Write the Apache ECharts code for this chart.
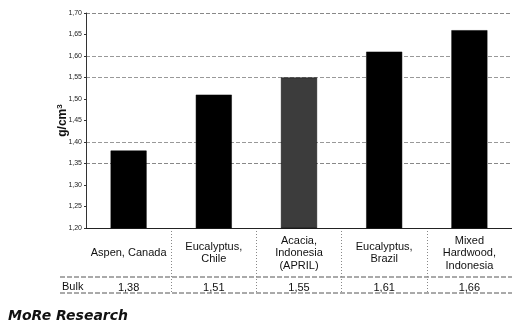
<!DOCTYPE html>
<html>
<head>
<meta charset="utf-8">
<style>
  html, body { margin: 0; padding: 0; background: #fff; }
  #chart { width: 512px; height: 329px; }
</style>
<script src="https://cdn.jsdelivr.net/npm/echarts@6/dist/echarts.min.js"></script>
</head>
<body>
<div id="chart"></div>
<script>
// categories and values
const categories = ['Aspen, Canada', 'Eucalyptus,\nChile', 'Acacia,\nIndonesia\n(APRIL)', 'Eucalyptus,\nBrazil', 'Mixed\nHardwood,\nIndonesia']
const bulk = [1.38, 1.51, 1.55, 1.61, 1.66]
const barColors = ['#000', '#000', '#3c3c3c', '#000', '#000']

// the scanned grid only shows some of the lines
const gridColors = ['transparent', 'transparent', 'transparent', '#888', '#999', 'transparent', 'transparent', '#999', '#999', 'transparent', '#888']
const tableColors = ['transparent', '#888', '#888', '#888', '#888', 'transparent']

function comma(v, d) {
	return Number(v).toFixed(d).replace('.', ',')
}

const chart = echarts.init(document.getElementById('chart'))
const font = 'Liberation Sans, Arial, sans-serif'

chart.setOption({
	animation: false,
	textStyle: { fontFamily: font },
	grid: [
		{ left: 86, right: -6, top: 13, height: 215 },
		{ left: 86, right: -6, top: 228, height: 65 }
	],
	xAxis: [
		{
			type: 'category', gridIndex: 0, data: categories,
			axisLine: { lineStyle: { color: '#222', width: 1 } },
			axisTick: { show: false },
			axisLabel: {
				margin: 25, verticalAlign: 'middle', fontSize: 11, lineHeight: 12.5,
				color: '#111', fontFamily: font, interval: 0
			}
		},
		{
			type: 'category', gridIndex: 1, data: categories,
			axisLine: { show: false },
			axisTick: { show: false },
			splitLine: { show: true, lineStyle: { color: tableColors, type: [1, 2], width: 1 } },
			axisLabel: {
				margin: -5, verticalAlign: 'middle', fontSize: 11, color: '#111',
				fontFamily: font, interval: 0,
				formatter: function (value, index) { return comma(bulk[index], 2) }
			}
		}
	],
	yAxis: [
		{
			type: 'value', gridIndex: 0, min: 1.2, max: 1.7, interval: 0.05,
			name: '{a|g/cm}{s|3}', nameLocation: 'middle', nameGap: 16, nameMoveOverlap: false,
			nameTextStyle: {
				rich: {
					a: { fontSize: 12, fontWeight: 'bold', color: '#111', fontFamily: font },
					s: { fontSize: 8, fontWeight: 'bold', color: '#111', fontFamily: font, verticalAlign: 'top', padding: [0, 0, 6, 0] }
				}
			},
			axisLine: { show: true, lineStyle: { color: '#333', width: 1 } },
			axisTick: { show: true, length: 2, lineStyle: { color: '#333' } },
			axisLabel: {
				fontSize: 7, color: '#222', margin: 4, fontFamily: font,
				formatter: function (v) { return comma(v, 2) }
			},
			splitLine: { show: true, lineStyle: { color: gridColors, type: [4, 2], width: 1 } }
		},
		{
			type: 'value', gridIndex: 1, min: 0, max: 1,
			axisLine: { show: false }, axisTick: { show: false },
			axisLabel: { show: false }, splitLine: { show: false }
		}
	],
	series: [{
		type: 'bar', xAxisIndex: 0, yAxisIndex: 0,
		barWidth: 36,
		data: bulk.map(function (v, i) {
			return { value: v, itemStyle: { color: barColors[i], borderColor: '#000', borderWidth: 0.5 } }
		})
	}],
	graphic: [
		{ type: 'line', shape: { x1: 60, y1: 277, x2: 512, y2: 277 }, style: { stroke: '#555', lineWidth: 1, lineDash: [5, 2] } },
		{ type: 'line', shape: { x1: 60, y1: 293, x2: 512, y2: 293 }, style: { stroke: '#555', lineWidth: 1, lineDash: [5, 2] } },
		{ type: 'text', left: 62, top: 281, style: { text: 'Bulk', font: '11px ' + font, fill: '#111' } },
		{ type: 'text', left: 8, top: 309, style: { text: 'MoRe Research', font: 'italic bold 14px DejaVu Sans', fill: '#111' } }
	]
})
</script>
</body>
</html>
